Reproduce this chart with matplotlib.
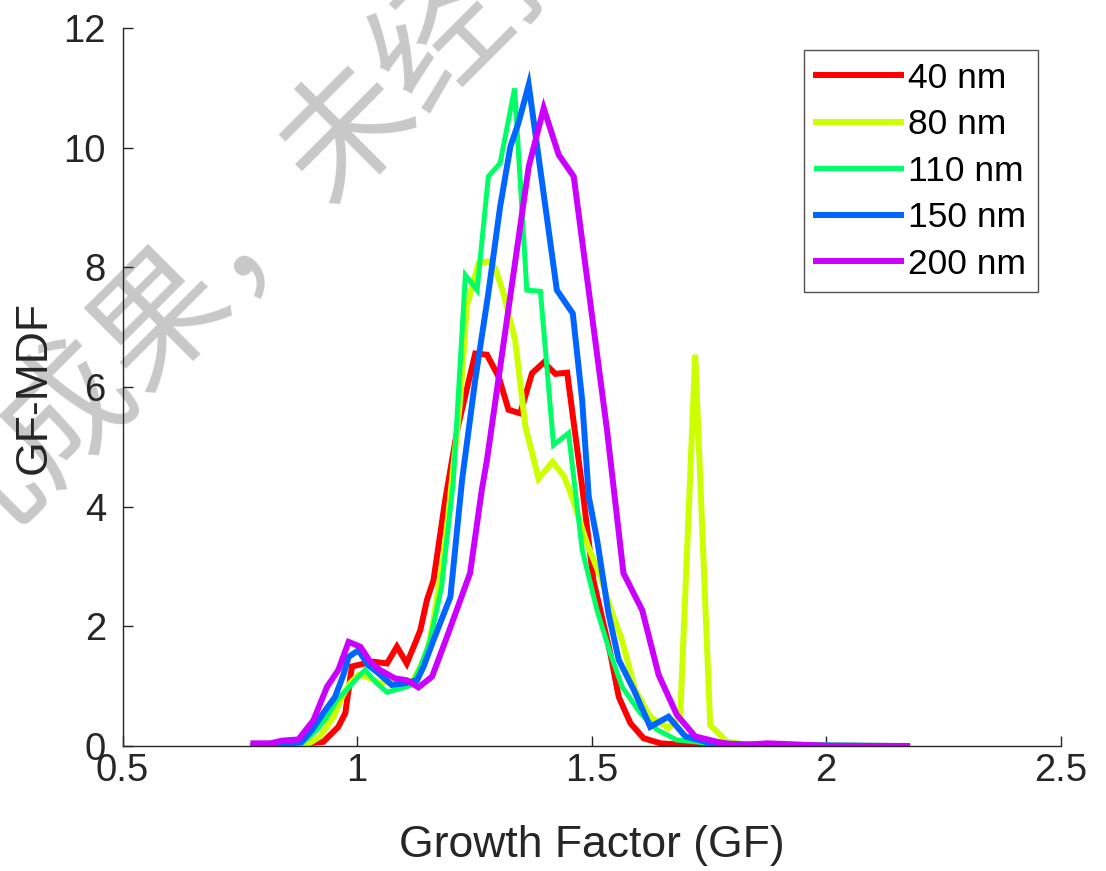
import matplotlib.pyplot as plt

# GF-MDF curves, one pair of lists per dry size
gf_40 = [0.778, 0.836, 0.928, 0.960, 0.975, 0.989, 1.011, 1.034, 1.064, 1.085,
         1.106, 1.124, 1.135, 1.149, 1.163, 1.188, 1.214, 1.252, 1.277, 1.302,
         1.323, 1.348, 1.373, 1.398, 1.423, 1.448, 1.480, 1.504, 1.540, 1.558,
         1.583, 1.611, 1.647, 1.717, 1.800, 2.170]
mdf_40 = [0.0, 0.0, 0.07, 0.32, 0.55, 1.33, 1.37, 1.41, 1.38, 1.66,
          1.38, 1.72, 1.94, 2.44, 2.77, 4.11, 5.30, 6.56, 6.54, 6.17,
          5.62, 5.56, 6.23, 6.41, 6.22, 6.24, 4.33, 2.77, 1.55, 0.82,
          0.38, 0.13, 0.045, 0.01, 0.0, 0.0]

gf_80 = [0.800, 0.857, 0.893, 0.921, 0.950, 0.968, 0.985, 1.003, 1.021, 1.049,
         1.078, 1.106, 1.120, 1.149, 1.163, 1.184, 1.195, 1.220, 1.234, 1.259,
         1.280, 1.295, 1.312, 1.337, 1.359, 1.387, 1.417, 1.442, 1.462, 1.490,
         1.519, 1.544, 1.565, 1.593, 1.625, 1.664, 1.689, 1.721, 1.753, 1.789,
         1.832, 2.170]
mdf_80 = [0.0, 0.0, 0.02, 0.16, 0.49, 0.82, 1.05, 1.19, 1.16, 1.05,
          1.10, 1.07, 1.10, 1.55, 2.10, 3.16, 3.89, 5.78, 7.35, 8.07,
          8.10, 7.98, 7.57, 6.79, 5.34, 4.47, 4.75, 4.50, 4.08, 3.39,
          2.83, 2.22, 1.77, 0.94, 0.49, 0.30, 0.49, 6.54, 0.35, 0.07,
          0.02, 0.0]

gf_110 = [0.778, 0.879, 0.914, 0.936, 0.957, 0.978, 0.996, 1.017, 1.042, 1.064,
          1.092, 1.117, 1.135, 1.156, 1.180, 1.205, 1.231, 1.256, 1.280, 1.305,
          1.336, 1.362, 1.391, 1.419, 1.451, 1.480, 1.512, 1.540, 1.565, 1.604,
          1.640, 1.682, 1.753, 1.817, 2.170]
mdf_110 = [0.0, 0.02, 0.27, 0.49, 0.77, 0.94, 1.10, 1.27, 1.05, 0.90,
           0.96, 1.02, 1.32, 1.77, 2.65, 4.40, 7.87, 7.62, 9.52, 9.74,
           10.99, 7.62, 7.60, 5.03, 5.23, 3.28, 2.26, 1.55, 0.99, 0.55,
           0.27, 0.10, 0.045, 0.01, 0.0]

gf_150 = [0.783, 0.842, 0.882, 0.904, 0.928, 0.953, 0.971, 0.982, 1.003, 1.024,
          1.042, 1.074, 1.103, 1.128, 1.142, 1.163, 1.177, 1.199, 1.224, 1.252,
          1.280, 1.305, 1.327, 1.344, 1.366, 1.426, 1.460, 1.480, 1.494, 1.512,
          1.536, 1.558, 1.590, 1.625, 1.664, 1.700, 1.753, 1.860, 2.170]
mdf_150 = [0.01, 0.02, 0.07, 0.27, 0.55, 0.82, 1.19, 1.49, 1.60, 1.35,
           1.24, 1.02, 1.05, 1.10, 1.33, 1.77, 2.05, 2.49, 4.45, 6.12,
           7.57, 9.01, 10.02, 10.41, 11.05, 7.62, 7.23, 5.78, 4.17, 3.44,
           2.22, 1.44, 0.94, 0.32, 0.49, 0.16, 0.05, 0.02, 0.0]

gf_200 = [0.779, 0.815, 0.840, 0.875, 0.907, 0.936, 0.960, 0.982, 1.007, 1.028,
          1.049, 1.081, 1.106, 1.131, 1.160, 1.192, 1.241, 1.266, 1.277, 1.366,
          1.398, 1.430, 1.462, 1.533, 1.568, 1.608, 1.643, 1.682, 1.721, 1.768,
          1.810, 1.874, 1.924, 2.009, 2.173]
mdf_200 = [0.045, 0.045, 0.09, 0.11, 0.43, 0.99, 1.27, 1.74, 1.66, 1.41,
           1.27, 1.13, 1.10, 0.98, 1.16, 1.83, 2.89, 4.28, 4.78, 9.68,
           10.66, 9.88, 9.52, 5.28, 2.89, 2.27, 1.19, 0.52, 0.16, 0.07,
           0.01, 0.045, 0.03, 0.0, 0.0]

labels = ['40 nm', '80 nm', '110 nm', '150 nm', '200 nm']
# matlab hsv(5)
colours = ['#ff0000', '#ccff00', '#00ff66', '#0066ff', '#cc00ff']
widths = [4.3, 4.3, 3.6, 4.3, 4.3]

xticks = [0.5, 1, 1.5, 2, 2.5]
xticklabels = ['0.5', '1', '1.5', '2', '2.5']
yticks = [0, 2, 4, 6, 8, 10, 12]

plt.rcParams['font.family'] = ['Liberation Sans', 'DejaVu Sans']
ink = '#262626'

fig = plt.figure(figsize=(11.06, 8.71), dpi=100)
ax = fig.add_axes([0.1108, 0.1435, 0.8481, 0.8243])
ax.patch.set_alpha(0)

series = [(gf_40, mdf_40), (gf_80, mdf_80), (gf_110, mdf_110),
          (gf_150, mdf_150), (gf_200, mdf_200)]
for (x, y), lab, col, lw in zip(series, labels, colours, widths):
    ax.plot(x, y, color=col, lw=lw, label=lab, solid_joinstyle='miter')

ax.set_xlim(0.5, 2.5)
ax.set_ylim(0, 12)
ax.set_xticks(xticks)
ax.set_xticklabels(xticklabels)
ax.set_yticks(yticks)
ax.tick_params(direction='in', length=7, width=1, color=ink,
               labelsize=27.5, labelcolor=ink)
ax.tick_params(axis='x', pad=5)
ax.tick_params(axis='y', pad=12)
for side in ['top', 'right']:
    ax.spines[side].set_visible(False)
for side in ['left', 'bottom']:
    ax.spines[side].set_color(ink)
    ax.spines[side].set_linewidth(1)

ax.set_xlabel('Growth Factor (GF)', fontsize=32, color=ink, labelpad=26)
ax.set_ylabel('GF-MDF', fontsize=32, color=ink, labelpad=6)

leg = ax.legend(loc='upper right', bbox_to_anchor=(1038 / 1106, 1 - 50 / 871),
                bbox_transform=fig.transFigure, borderaxespad=0,
                fontsize=25.5, handlelength=2.4, handletextpad=0.2,
                labelspacing=0.38, borderpad=0.33, fancybox=False)
leg.get_frame().set_edgecolor(ink)
leg.get_frame().set_linewidth(1)
for t in leg.get_texts():
    t.set_color('black')

# watermark, under everything else
fig.text(0.2312, 0.7407, '研究成果，未经授权', fontsize=95, color='#c8c8c8',
         family=['Noto Sans CJK SC', 'DejaVu Sans'], rotation=45,
         ha='center', va='center', rotation_mode='anchor', zorder=-1)

fig.savefig('out.png', dpi=100)
